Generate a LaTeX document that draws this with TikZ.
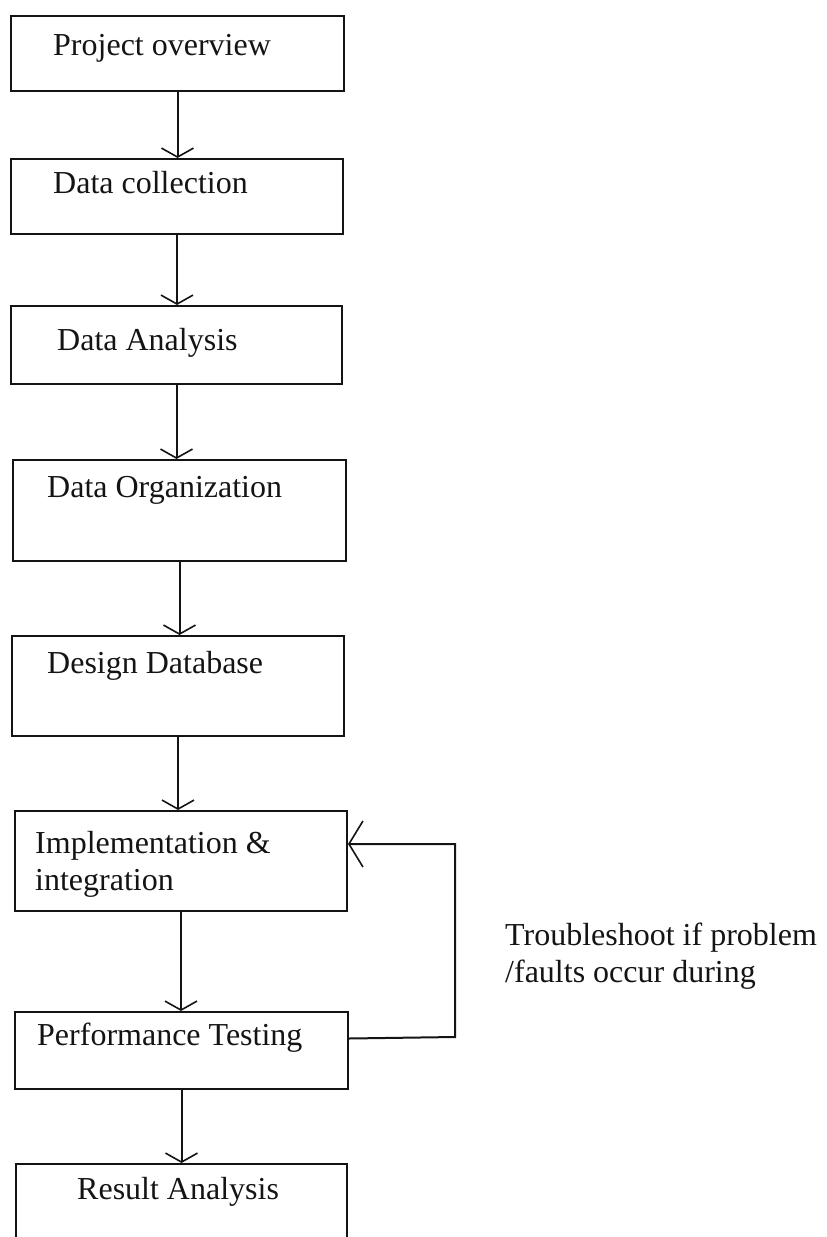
\documentclass[tikz,border=0pt]{standalone}
\usepackage{fontspec}
\setmainfont{Liberation Serif}
\usepackage{tikz}
\usetikzlibrary{arrows.meta, positioning, calc}
\definecolor{cInk}{RGB}{20,20,20}
\tikzset{
	stagebox/.style ={rectangle, draw=cInk, line width=2pt, anchor=north west, inner sep=0pt},
	stagetext/.style={anchor=base west, inner sep=0pt, align=left, text=cInk},
	% connector styles
	flow/.style     ={draw=cInk, line width=2pt, -{Straight Barb[length=9pt, width=32pt, line width=1.6pt]}},
	loopflow/.style ={draw=cInk, line width=2pt, -{Straight Barb[length=14pt, width=46pt, line width=1.6pt]}},
}
\begin{document}
\begin{tikzpicture}[x=1pt, y=-1pt, font=\fontsize{32}{37}\selectfont]
	\useasboundingbox (0,0) rectangle (827,1237);
	\clip (0,0) rectangle (827,1237);
	\node[stagebox, minimum width=333pt, minimum height=75pt]  (overview) at (10,15) {};
	\node[stagebox, minimum width=332pt, minimum height=75pt]  (collect)  at (10,158) {};
	\node[stagebox, minimum width=331pt, minimum height=78pt]  (analysis) at (10,305) {};
	\node[stagebox, minimum width=333pt, minimum height=101pt] (organize) at (12,459) {};
	\node[stagebox, minimum width=332pt, minimum height=100pt] (design)   at (11,635) {};
	\node[stagebox, minimum width=332pt, minimum height=100pt] (implem)   at (14,810) {};
	\node[stagebox, minimum width=333pt, minimum height=77pt]  (testing)  at (14,1011) {};
	\node[stagebox, minimum width=331pt, minimum height=110pt] (result)   at (15,1163) {};
	\node[stagetext] (tOverview) at ([xshift=43pt, yshift=-40pt]overview.north west) {Project overview};
	\node[stagetext] (tCollect)  at ([xshift=43pt, yshift=-35pt]collect.north west) {Data collection};
	\node[stagetext] (tAnalysis) at ([xshift=47pt, yshift=-45pt]analysis.north west) {Data Analysis};
	\node[stagetext] (tOrganize) at ([xshift=35pt, yshift=-38pt]organize.north west) {Data Organization};
	\node[stagetext] (tDesign)   at ([xshift=36pt, yshift=-38pt]design.north west) {Design Database};
	\node[stagetext] (tImplem)   at ([xshift=21pt, yshift=-80pt]implem.north west) {Implementation \&\\integration};
	\node[stagetext] (tTesting)  at ([xshift=23pt, yshift=-34pt]testing.north west) {Performance Testing};
	\node[stagetext] (tResult)   at ([xshift=62pt, yshift=-36pt]result.north west) {Result Analysis};
	\draw[flow] (overview.south) -- (overview.south |- collect.north);
	\draw[flow] (collect.south) -- (collect.south |- analysis.north);
	\draw[flow] (analysis.south) -- (analysis.south |- organize.north);
	\draw[flow] (organize.south) -- (organize.south |- design.north);
	\draw[flow] (design.south) -- (design.south |- implem.north);
	\draw[flow] (implem.south) -- (implem.south |- testing.north);
	\draw[flow] (testing.south) -- (testing.south |- result.north);
	\coordinate (turn) at (455,1037);
	\draw[loopflow] ([yshift=12pt]testing.east) -- (turn) |- ([yshift=17pt]implem.east);
	\node[stagetext] (note) at (505,982) {Troubleshoot if problem\\/faults occur during};
\end{tikzpicture}
\end{document}
